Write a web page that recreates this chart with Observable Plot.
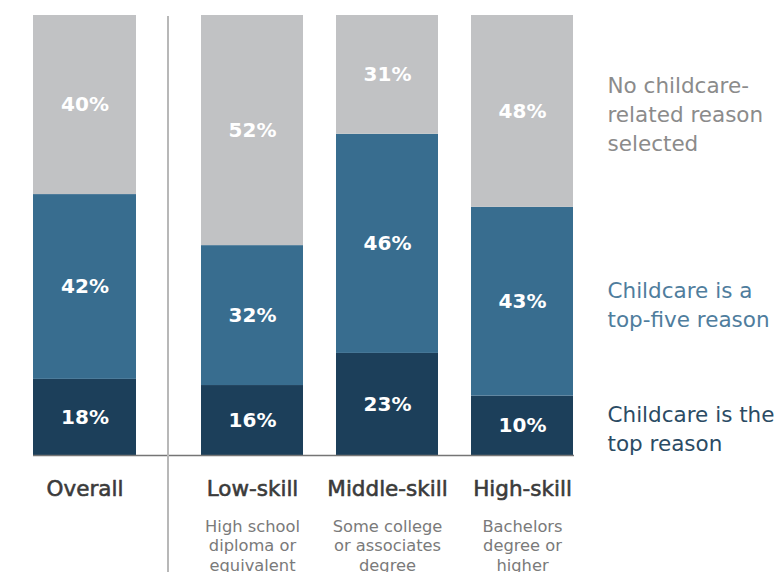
<!DOCTYPE html>
<html>
<head>
<meta charset="utf-8">
<script src="https://cdn.jsdelivr.net/npm/d3@7"></script>
<script src="https://cdn.jsdelivr.net/npm/@observablehq/plot@0.6"></script>
<style>
  html, body { margin: 0; padding: 0; background: #fff; }
  body { width: 774px; height: 572px; overflow: hidden; font-family: "DejaVu Sans", sans-serif; }
  #row { display: flex; flex-direction: row; position: relative; }
  #sep { position: absolute; left: 167px; top: 16px; width: 2px; height: 556px; background: #b8b8b8; }
  svg { overflow: visible; }
</style>
</head>
<body>
<div id="row"><div id="a"></div><div id="b"></div><div id="sep"></div></div>
<script>
const categories = ["Overall", "Low-skill", "Middle-skill", "High-skill"];
const sublabels = ["", "High school\ndiploma or\nequivalent", "Some college\nor associates\ndegree", "Bachelors\ndegree or\nhigher"];
const series = ["Childcare is the top reason", "Childcare is a top-five reason", "No childcare-related reason selected"];
const legendLabels = ["Childcare is the\ntop reason", "Childcare is a\ntop-five reason", "No childcare-\nrelated reason\nselected"];
// printed percentages
const topReason = [18, 16, 23, 10];
const topFive = [42, 32, 46, 43];
const noReason = [40, 52, 31, 48];
// segment lengths as drawn in the picture (% of bar height)
const topReasonBar = [17.3, 15.9, 23.2, 13.5];
const topFiveBar = [42.0, 31.8, 49.8, 42.9];
const noReasonBar = [40.7, 52.3, 27.0, 43.6];

const fills = ["#1c3f5a", "#386d8f", "#c1c2c4"];
const legendColors = ["#2b4b64", "#4f7d9d", "#8b8b8b"];
const values = [topReason, topFive, noReason];
const bars = [topReasonBar, topFiveBar, noReasonBar];

const data = [];
categories.forEach((c, i) => {
  series.forEach((s, j) => data.push({cat: c, series: s, share: bars[j][i], label: values[j][i] + "%"}));
});
const cats = categories.map((c, i) => ({cat: c, sub: sublabels[i]}));

const H = 572, MT = 15, MB = 117;
const font = "DejaVu Sans";

function makePlot(catList, opts) {
  const d = data.filter(r => catList.includes(r.cat));
  const cl = cats.filter(r => catList.includes(r.cat));
  const stack = (o) => Plot.stackY({x: "cat", y: "share", order: series, offset: "normalize", ...o});
  const marks = [
    Plot.barY(d, stack({fill: "series"})),
    Plot.textY(d, stack({z: "series", text: "label",
      fill: "white", fontWeight: 700, fontSize: 20, fontFamily: font})),
    Plot.ruleY([0], {stroke: "#757575", strokeWidth: 1.5, insetLeft: opts.ruleInsetLeft, insetRight: opts.ruleInsetRight}),
    Plot.text(cl, {x: "cat", y: () => 0, text: "cat", dy: 34, fontSize: 21.5, fill: "#3b3b3b",
      stroke: "#3b3b3b", strokeWidth: 0.6, fontFamily: font}),
    Plot.text(cl, {x: "cat", y: () => 0, text: "sub", dy: 63, lineAnchor: "top", lineHeight: 1.18, fontSize: 16.3, fill: "#7a7a7a", fontFamily: font})
  ];
  if (opts.legend) {
    const last = catList[catList.length - 1];
    const li = categories.indexOf(last);
    const ld = series.map((s, j) => ({cat: last, series: s, share: bars[j][li], text: legendLabels[j]}));
    marks.push(Plot.text(ld, stack({z: "series", text: "text",
      fill: (r) => legendColors[series.indexOf(r.series)], textAnchor: "start", dx: 85, dy: 1.5,
      fontSize: 21.5, lineHeight: 1.33, fontFamily: font})));
  }
  return Plot.plot({
    width: opts.width, height: H,
    marginTop: MT, marginBottom: MB, marginLeft: opts.ml, marginRight: opts.mr,
    x: {domain: catList, axis: null, paddingInner: opts.pad, paddingOuter: 0},
    y: {domain: [0, 1], axis: null},
    color: {domain: series, range: fills},
    style: {fontFamily: font, overflow: "visible"},
    marks
  });
}

document.getElementById("a").append(makePlot(["Overall"], {width: 168, ml: 33, mr: 32, pad: 0, ruleInsetRight: -32, ruleInsetLeft: 0}));
document.getElementById("b").append(makePlot(["Low-skill", "Middle-skill", "High-skill"], {width: 606, ml: 32, mr: 200, pad: 33 / 136, ruleInsetLeft: -32, ruleInsetRight: 0, legend: true}));
</script>
</body>
</html>
